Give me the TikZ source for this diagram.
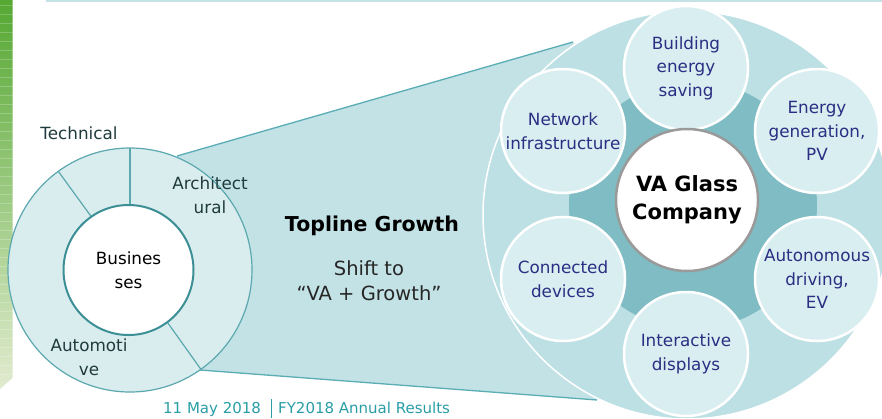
\documentclass[tikz,border=0pt]{standalone}
\usepackage{fontspec}
\setmainfont{DejaVu Sans}
\definecolor{ringfill}{HTML}{D9EDEF}
\definecolor{ringline}{HTML}{5BA8AE}
\definecolor{hubring}{HTML}{3D8F96}
\definecolor{funnelfill}{HTML}{C3E2E6}
\definecolor{funnelline}{HTML}{5AADB5}
\definecolor{bigfill}{HTML}{BDE0E4}
\definecolor{darkband}{HTML}{7FBCC3}
\definecolor{petalfill}{HTML}{D9EEF0}
\definecolor{navy}{HTML}{2B2E83}
\definecolor{slate}{HTML}{1F3B3D}
\definecolor{footteal}{HTML}{2A9EA6}
\definecolor{hubline}{HTML}{9A9A9A}
\definecolor{topline}{HTML}{C5E3E6}
\definecolor{greentop}{HTML}{55A832}
\definecolor{greenbot}{HTML}{E1EBCF}
\tikzset{
  petal/.style={circle, draw=white, line width=2.5pt, fill=petalfill,
    minimum size=124pt, inner sep=0pt, align=center, text=navy,
    font=\fontsize{16.8}{23.5}\selectfont},
  hub/.style={circle, draw=hubline, line width=2.5pt, fill=white,
    minimum size=142pt, inner sep=0pt, align=center, text=black,
    font=\fontsize{21}{28}\selectfont\bfseries},
  ringtext/.style={align=center, text=slate, inner sep=0pt,
    font=\fontsize{16.8}{24}\selectfont},
  midtext/.style={align=center, inner sep=0pt},
  footer/.style={text=footteal, inner sep=0pt, font=\fontsize{15}{18}\selectfont},
  funnelstroke/.style={draw=funnelline, line width=1.3pt},
  segline/.style={draw=ringline, line width=1.2pt}
}
\begin{document}
\begin{tikzpicture}[x=1pt, y=-1pt]
  \useasboundingbox (0,0) rectangle (882,418);
  \fill[white] (0,0) rectangle (882,418);

  % header rule and side bar
  \draw[topline, line width=2pt] (46,1) -- (882,1);
  \shade[top color=greentop, bottom color=greenbot]
    (0,0) -- (12.5,0) -- (12.5,378) -- (0,389) -- cycle;
  \foreach \s in {5,14,...,375}
    \draw[white, opacity=0.22, line width=0.8pt] (0,\s) -- (12.5,\s);

  % funnel between the business ring and the company circle
  \coordinate (ftl) at (177,156);
  \coordinate (ftr) at (573,42);
  \coordinate (fbl) at (200,370);
  \coordinate (fbr) at (597,400);
  \fill[funnelfill] (ftl) -- (ftr) -- (687,215) -- (fbr) -- (fbl) -- cycle;
  \draw[funnelstroke] (ftl) -- (ftr);
  \draw[funnelstroke] (fbl) -- (fbr);

  % large disc and dark band
  \filldraw[fill=bigfill, draw=white, line width=1.5pt] (687,215) circle[radius=204pt];
  \fill[darkband] (693,205) circle[radius=124pt];

  % business ring
  \coordinate (rc) at (130,270);
  \filldraw[fill=ringfill, draw=ringline, line width=1.2pt] (rc) circle[radius=122pt];
  \draw[segline] (130,148) -- (130,205);
  \draw[segline] (58.3,171.3) -- (91.8,217.4);
  \draw[segline] (167.8,322.9) -- (200.9,369.3);
  \node[circle, draw=hubring, line width=2pt, fill=white, minimum size=130pt,
        inner sep=0pt, align=center, text=black,
        font=\fontsize{16.8}{24}\selectfont] (biz) at (128.5,270) {Busines\\ses};
  \node[ringtext] (tech) at (79,133) {Technical};
  \node[ringtext] (arch) at (210,195) {Architect\\ural};
  \node[ringtext] (auto) at (89,357) {Automoti\\ve};

  % middle labels
  \node[midtext, font=\fontsize{20.5}{24}\selectfont\bfseries] (top) at (372,226) {Topline Growth};
  \node[midtext, text={black!85}, font=\fontsize{19.5}{25}\selectfont] (shift) at (369,281)
    {Shift to\\``VA + Growth''};

  % application circles
  \node[petal] (build) at (686,68)  {Building\\energy\\saving};
  \node[petal] (gen)   at (817,131) {Energy\\generation,\\PV};
  \node[petal] (drive) at (817,279) {Autonomous\\driving,\\EV};
  \node[petal] (disp)  at (686,354) {Interactive\\displays};
  \node[petal] (dev)   at (563,279) {Connected\\devices};
  \node[petal] (net)   at (563,131) {Network\\infrastructure};
  \node[hub] (va) at (687,200) {VA Glass\\Company};

  % footer
  \node[footer, anchor=base west] (date) at (163,413.5) {11 May 2018};
  \coordinate (sepT) at (271.5,399);
  \coordinate (sepB) at (271.5,418);
  \draw[footteal, line width=0.8pt] (sepT) -- (sepB);
  \node[footer, anchor=base west] (title) at (278,413.5) {FY2018 Annual Results};
\end{tikzpicture}
\end{document}
